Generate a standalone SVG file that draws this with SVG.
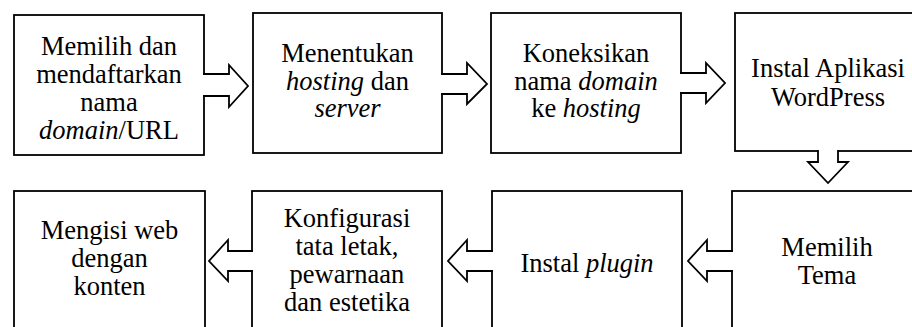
<svg xmlns="http://www.w3.org/2000/svg" width="912" height="327" viewBox="0 0 912 327">
<style>
.box{fill:#fff;stroke:#000;stroke-width:1.8}
.arr{fill:#fff;stroke:#000;stroke-width:1.8;stroke-linejoin:miter}
text{font-family:"Liberation Serif","Times New Roman",serif;font-size:26.5px;fill:#000;text-anchor:middle}
.i{font-style:italic}
</style>
<rect width="912" height="327" fill="#fff"/>
<g id="node1"><rect class="box" x="14" y="15" width="190" height="140"/>
<text x="109" y="55">Memilih dan</text>
<text x="109" y="83">mendaftarkan</text>
<text x="109" y="111">nama</text>
<text x="109" y="139"><tspan class="i">domain</tspan>/URL</text></g>
<g id="node2"><rect class="box" x="253" y="13" width="189" height="140"/>
<text x="347.5" y="62">Menentukan</text>
<text x="347.5" y="89.5"><tspan class="i">hosting</tspan> dan</text>
<text x="347.5" y="117" class="i">server</text></g>
<g id="node3"><rect class="box" x="491" y="13" width="190" height="140"/>
<text x="586" y="62">Koneksikan</text>
<text x="586" y="89.5">nama <tspan class="i">domain</tspan></text>
<text x="586" y="117">ke <tspan class="i">hosting</tspan></text></g>
<g id="node4"><rect class="box" x="735" y="13" width="190" height="138"/>
<text x="828" y="77">Instal Aplikasi</text>
<text x="828" y="105.5">WordPress</text></g>
<g id="node5"><rect class="box" x="14" y="191" width="191" height="140"/>
<text x="109.5" y="239">Mengisi web</text>
<text x="109.5" y="267">dengan</text>
<text x="109.5" y="295">konten</text></g>
<g id="node6"><rect class="box" x="252" y="191" width="190" height="140"/>
<text x="347" y="227">Konfigurasi</text>
<text x="347" y="255">tata letak,</text>
<text x="347" y="283">pewarnaan</text>
<text x="347" y="311">dan estetika</text></g>
<g id="node7"><rect class="box" x="492" y="191" width="190" height="140"/>
<text x="587" y="271.5">Instal <tspan class="i">plugin</tspan></text></g>
<g id="node8"><rect class="box" x="732" y="191" width="190" height="140"/>
<text x="827" y="256">Memilih</text>
<text x="827" y="284">Tema</text></g>
<g id="connectors">
<path class="arr" d="M203,74 L229,74 L229,65 L248,86 L229,107 L229,96 L203,96"/>
<path class="arr" d="M441,74 L467,74 L467,63 L487,84 L467,104 L467,94 L441,94"/>
<path class="arr" d="M680,73 L706,73 L706,63 L725,83 L706,103 L706,93 L680,93"/>
<path class="arr" d="M818,150 L818,162 L808,162 L828,183 L848,162 L838,162 L838,150"/>
<path class="arr" d="M733,251 L707,251 L707,240 L688,261 L707,281 L707,271 L733,271"/>
<path class="arr" d="M493,251 L467,251 L467,240 L448,261 L467,281 L467,271 L493,271"/>
<path class="arr" d="M253,251 L228,251 L228,240 L209,261 L228,281 L228,271 L253,271"/>
</g>
</svg>
